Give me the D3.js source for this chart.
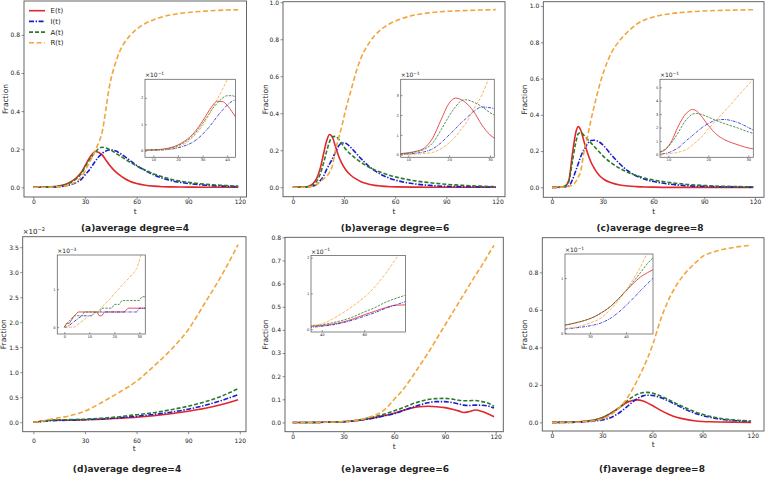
<!DOCTYPE html>
<html lang="en">
<head>
<meta charset="UTF-8">
<title>average degree</title>
<script src="https://cdn.jsdelivr.net/npm/d3@7"></script>
<style>
  body { margin: 0; background: #fff; }
  text { font-family: "DejaVu Sans", sans-serif; fill: #222; }
</style>
</head>
<body>
<script>
// ---- data (main plots: fraction; insets: in units of the x10^k label) ----
const seriesNames = ['E(t)', 'I(t)', 'A(t)', 'R(t)']
const xTicksMain = [0, 30, 60, 90, 120]

// (a) average degree = 4
const tA = [0,5,10,15,20,25,28,30,32,34,36,38,40,42,44,46,48,50,53,56,60,65,70,75,80,90,100,110,119]
const eA = [0,0.0005,0.002,0.007,0.02,0.05,0.08,0.112,0.145,0.172,0.188,0.183,0.17,0.145,0.12,0.098,0.08,0.065,0.046,0.032,0.02,0.011,0.006,0.003,0.002,0.001,0,0,0]
const iA = [0,0,0.001,0.003,0.01,0.025,0.043,0.065,0.085,0.11,0.137,0.16,0.178,0.19,0.196,0.195,0.19,0.18,0.162,0.142,0.115,0.088,0.065,0.048,0.035,0.02,0.011,0.006,0.003]
const aA = [0,0.0005,0.002,0.006,0.018,0.045,0.073,0.105,0.135,0.162,0.185,0.203,0.21,0.207,0.2,0.19,0.178,0.167,0.15,0.133,0.112,0.09,0.07,0.055,0.042,0.026,0.016,0.01,0.006]
const rA = [0,0,0.001,0.003,0.01,0.03,0.055,0.085,0.12,0.155,0.195,0.235,0.29,0.4,0.52,0.6,0.66,0.71,0.76,0.795,0.83,0.86,0.88,0.895,0.905,0.918,0.925,0.93,0.932]
const tAi = [6,10,14,18,22,26,28,30,32,34,36,38,40,42,44]
const eAi = [0.02,0.03,0.06,0.14,0.32,0.62,0.85,1.12,1.42,1.7,1.87,1.86,1.72,1.47,1.2]
const iAi = [0.01,0.02,0.03,0.07,0.16,0.32,0.45,0.62,0.82,1.05,1.3,1.52,1.72,1.87,1.94]
const aAi = [0.02,0.03,0.05,0.12,0.28,0.56,0.78,1.03,1.3,1.58,1.8,1.98,2.08,2.08,2.0]
const rAi = [0,0.01,0.03,0.08,0.22,0.5,0.7,0.95,1.25,1.6,1.95,2.3,2.7,3.3,3.9]

// (b) average degree = 6
const tB = [0,5,8,10,12,14,16,18,20,21.5,23,25,27,29,31,34,37,40,44,48,52,57,62,70,80,90,100,110,119]
const eB = [0,0.0005,0.002,0.008,0.022,0.048,0.1,0.18,0.255,0.285,0.275,0.22,0.165,0.125,0.095,0.065,0.045,0.03,0.018,0.01,0.006,0.003,0.002,0.001,0,0,0,0,0]
const iB = [0,0,0.001,0.003,0.007,0.015,0.035,0.06,0.1,0.125,0.15,0.19,0.225,0.24,0.238,0.215,0.185,0.155,0.118,0.09,0.068,0.048,0.034,0.02,0.01,0.005,0.003,0.002,0.001]
const aB = [0,0.0005,0.002,0.006,0.015,0.033,0.07,0.13,0.2,0.245,0.272,0.275,0.258,0.232,0.205,0.178,0.155,0.135,0.112,0.094,0.08,0.064,0.052,0.037,0.025,0.016,0.01,0.006,0.003]
const rB = [0,0,0.001,0.003,0.008,0.015,0.03,0.045,0.06,0.08,0.11,0.2,0.27,0.34,0.42,0.52,0.62,0.7,0.77,0.82,0.855,0.885,0.905,0.928,0.943,0.951,0.955,0.958,0.96]
const tBi = [8,10,12,14,16,18,20,21.5,23,24,26,28,30,32]
const eBi = [0.05,0.1,0.18,0.35,0.85,1.75,2.6,2.85,2.77,2.63,2.18,1.5,1.0,0.72]
const iBi = [0.02,0.04,0.08,0.15,0.3,0.6,1.0,1.3,1.62,1.8,2.18,2.4,2.37,2.23]
const aBi = [0.03,0.07,0.15,0.28,0.6,1.25,1.95,2.4,2.72,2.77,2.65,2.42,2.12,1.9]
const rBi = [0,0.01,0.03,0.06,0.12,0.3,0.6,0.9,1.3,1.55,2.3,3.0,4.0,4.8]

// (c) average degree = 8
const tC = [0,4,6,8,10,12,14,15.5,17,19,21,23,25,28,31,35,40,45,50,55,60,70,80,90,100,110,119]
const eC = [0,0.0005,0.002,0.008,0.04,0.18,0.3,0.335,0.315,0.25,0.19,0.14,0.105,0.065,0.042,0.025,0.013,0.007,0.004,0.002,0.001,0,0,0,0,0,0]
const iC = [0,0,0.001,0.003,0.008,0.04,0.09,0.13,0.17,0.21,0.24,0.258,0.26,0.25,0.225,0.18,0.13,0.09,0.062,0.044,0.032,0.017,0.009,0.005,0.003,0.002,0.001]
const aC = [0,0.0005,0.002,0.007,0.035,0.14,0.245,0.295,0.302,0.285,0.265,0.245,0.225,0.195,0.165,0.135,0.105,0.082,0.065,0.05,0.04,0.026,0.016,0.01,0.006,0.004,0.002]
const rC = [0,0,0.001,0.002,0.005,0.012,0.03,0.055,0.09,0.2,0.28,0.37,0.45,0.56,0.65,0.74,0.81,0.86,0.9,0.925,0.94,0.958,0.967,0.973,0.976,0.978,0.98]
const tCi = [7,9,10,11,12,13,14,15,16,17,18,20,22,24,26,28,30,32]
const eCi = [0.1,0.3,0.6,1.1,1.8,2.4,2.9,3.2,3.35,3.25,2.95,2.15,1.5,1.1,0.85,0.65,0.48,0.38]
const iCi = [0.02,0.06,0.12,0.25,0.4,0.6,0.9,1.15,1.4,1.65,1.9,2.3,2.55,2.6,2.5,2.3,2.0,1.7]
const aCi = [0.15,0.35,0.6,0.95,1.4,1.9,2.4,2.75,3.0,3.05,3.0,2.78,2.52,2.3,2.1,1.9,1.68,1.5]
const rCi = [0,0.02,0.05,0.08,0.12,0.2,0.3,0.45,0.7,0.95,1.2,1.9,2.55,3.2,3.85,4.55,5.2,5.9]

// (d) average degree = 4 (x10^-2, inset x10^-3)
const tD = [0,5,10,20,30,40,50,60,70,80,90,100,110,119]
const eD = [0,0.02,0.04,0.04,0.05,0.06,0.08,0.1,0.13,0.17,0.22,0.28,0.36,0.45]
const iD = [0,0.015,0.03,0.04,0.05,0.065,0.09,0.12,0.155,0.2,0.26,0.34,0.44,0.55]
const aD = [0,0.02,0.04,0.05,0.06,0.08,0.11,0.15,0.19,0.25,0.32,0.41,0.53,0.67]
const rD = [0,0.02,0.06,0.12,0.22,0.4,0.6,0.82,1.12,1.45,1.85,2.4,2.97,3.55]
const tEdi = [0,1,2,3,4,5.5,13,14,15,16,24,25.5,33]
const eDi = [0,0.1,0.1,0.2,0.3,0.4,0.4,0.3,0.3,0.4,0.4,0.5,0.5]
const tIdi = [0,1,3,5,7,11,12.5,29,30,33]
const iDi = [0,0,0.1,0.2,0.3,0.3,0.4,0.4,0.5,0.5]
const tAdi = [0,1,2.5,4,7,8,14,15,19,20,22,23,30,31,33]
const aDi = [0,0.1,0.2,0.3,0.3,0.4,0.4,0.5,0.5,0.6,0.6,0.7,0.7,0.8,0.8]
const tRdi = [0,4,6,8,10,12,14,16,18,20,22,24,26,28,29,30,31]
const rDi = [0,0,0.1,0.2,0.3,0.35,0.45,0.6,0.72,0.88,1.02,1.17,1.3,1.45,1.55,1.75,2.0]

// (e) average degree = 6
const tE = [0,10,20,30,40,45,50,55,60,65,70,75,80,85,90,95,98,101,104,108,112,116,119]
const eE = [0,0,0.001,0.003,0.01,0.016,0.023,0.031,0.04,0.052,0.062,0.068,0.07,0.068,0.064,0.056,0.05,0.043,0.046,0.054,0.047,0.035,0.025]
const iE = [0,0,0.001,0.003,0.01,0.015,0.022,0.03,0.038,0.05,0.063,0.075,0.085,0.09,0.09,0.085,0.08,0.075,0.073,0.075,0.074,0.07,0.062]
const aE = [0,0,0.001,0.004,0.012,0.02,0.028,0.038,0.05,0.063,0.078,0.09,0.099,0.103,0.104,0.1,0.096,0.094,0.094,0.095,0.09,0.082,0.07]
const rE = [0,0,0.001,0.004,0.012,0.022,0.036,0.06,0.1,0.14,0.19,0.245,0.3,0.36,0.42,0.48,0.516,0.552,0.588,0.635,0.68,0.73,0.765]
const tEi = [34,40,45,50,55,60,65,70,75,80]
const eEi = [0.08,0.1,0.14,0.2,0.29,0.4,0.5,0.6,0.67,0.68]
const iEi = [0.05,0.08,0.12,0.18,0.26,0.36,0.46,0.58,0.68,0.78]
const aEi = [0.09,0.12,0.18,0.25,0.35,0.48,0.6,0.75,0.86,0.96]
const rEi = [0.1,0.15,0.28,0.46,0.66,0.89,1.18,1.55,1.97,2.4]

// (f) average degree = 8
const tF = [0,10,20,25,30,35,40,45,48,51,54,57,60,65,70,75,80,85,90,95,100,110,119]
const eF = [0,0.001,0.006,0.012,0.025,0.048,0.077,0.107,0.117,0.12,0.115,0.104,0.09,0.064,0.042,0.026,0.016,0.009,0.005,0.003,0.002,0.001,0]
const iF = [0,0,0.003,0.007,0.013,0.025,0.05,0.085,0.108,0.127,0.14,0.145,0.143,0.132,0.112,0.09,0.068,0.05,0.036,0.026,0.018,0.009,0.005]
const aF = [0,0.001,0.006,0.012,0.025,0.047,0.077,0.115,0.135,0.15,0.158,0.16,0.156,0.14,0.12,0.097,0.077,0.058,0.043,0.031,0.022,0.012,0.007]
const rF = [0,0,0.004,0.009,0.018,0.04,0.076,0.13,0.175,0.225,0.28,0.34,0.41,0.55,0.66,0.74,0.8,0.845,0.885,0.905,0.918,0.935,0.945]
const tFi = [23,27,30,33,36,38,40,42,44,46,48]
const eFi = [0.14,0.2,0.26,0.36,0.5,0.63,0.77,0.9,1.02,1.1,1.17]
const iFi = [0.07,0.1,0.13,0.18,0.28,0.38,0.5,0.63,0.77,0.9,1.03]
const aFi = [0.14,0.2,0.26,0.36,0.5,0.63,0.77,0.93,1.1,1.27,1.4]
const rFi = [0.08,0.12,0.18,0.27,0.45,0.6,0.77,0.98,1.2,1.48,1.8]

// ---- styles ----
const colors = ['#e3262b', '#1a1ad0', '#2a7a2a', '#f2a53a']
const dashMain = [null, '5,1.6,1.4,1.6', '4,2', '5,2.6']
const dashIn = [null, '3,1,0.8,1', '2.4,1.2', '3,1.5']

const svg = d3.select('body').append('svg').attr('width', 765).attr('height', 478)
let clipN = 0

function axesBox(g, o) {
  const x = d3.scaleLinear().domain(o.xd).range([o.l, o.r])
  const y = d3.scaleLinear().domain(o.yd).range([o.b, o.t])
  const id = 'clip' + (clipN++)
  svg.append('clipPath').attr('id', id).append('rect')
    .attr('x', o.l).attr('y', o.t).attr('width', o.r - o.l).attr('height', o.b - o.t)
  g.append('rect').attr('x', o.l).attr('y', o.t).attr('width', o.r - o.l).attr('height', o.b - o.t)
    .attr('fill', '#fff')
  const lines = g.append('g').attr('clip-path', 'url(#' + id + ')')
  o.series.forEach((s, k) => {
    const pts = s.t.map((tv, j) => [tv, s.v[j]])
    lines.append('path')
      .attr('d', d3.line().x(d => x(d[0])).y(d => y(d[1])).curve(o.curve || d3.curveMonotoneX)(pts))
      .attr('fill', 'none').attr('stroke', colors[k]).attr('stroke-width', o.lw)
      .attr('stroke-dasharray', o.dash[k])
  })
  const ts = o.tick
  const xa = g.append('g').attr('transform', 'translate(0,' + o.b + ')')
    .call(d3.axisBottom(x).tickValues(o.xt).tickSize(o.inner ? -ts : ts).tickPadding(o.xpad).tickFormat(d3.format('d')))
  const ya = g.append('g').attr('transform', 'translate(' + o.l + ',0)')
    .call(d3.axisLeft(y).tickValues(o.yt).tickSize(o.inner ? -ts : ts).tickPadding(o.ypad).tickFormat(d3.format(o.fmt)))
  ;[xa, ya].forEach(a => {
    a.select('.domain').remove()
    a.selectAll('line').attr('stroke', '#444').attr('stroke-width', 0.6)
    a.selectAll('text').attr('font-size', o.fs).style('font-family', '"DejaVu Sans", sans-serif').attr('fill', '#222')
  })
  // inner ticks: labels sit just outside the frame
  if (o.inner) {
    xa.selectAll('text').attr('y', o.xpad)
    ya.selectAll('text').attr('x', -o.ypad)
  }
  g.append('rect').attr('x', o.l).attr('y', o.t).attr('width', o.r - o.l).attr('height', o.b - o.t)
    .attr('fill', 'none').attr('stroke', o.frame).attr('stroke-width', o.fw)
  return { x, y }
}

function sciLabel(g, x, y, exp, fs) {
  const t = g.append('text').attr('x', x).attr('y', y).attr('font-size', fs)
  t.append('tspan').text('\u00d710')
  t.append('tspan').attr('dy', -fs * 0.4).attr('font-size', fs * 0.72).text('\u2212' + exp)
}

function mk(tArr, vals) { return vals.map(v => ({ t: tArr, v })) }

const panels = [
  { main: { l: 24, r: 246.5, t: 1, b: 197, xd: [-5.4, 123.8], yd: [-0.051, 0.978], yt: [0, 0.2, 0.4, 0.6, 0.8],
      series: mk(tA, [eA, iA, aA, rA]), xpad: 0.3, ylab: 5.3 },
    ins: { l: 145, r: 235.5, t: 79.3, b: 157.3, xd: [6.6, 43.4], yd: [-0.25, 2.7], xt: [10, 20, 30, 40], yt: [0, 1, 2],
      series: mk(tAi, [eAi, iAi, aAi, rAi]) }, exp: 1,
    title: '(a)average degree=4', tx: 135, ty: 231, tl: 213.5 },
  { main: { l: 283, r: 505, t: 1.7, b: 196.7, xd: [-5.75, 124.4], yd: [-0.051, 1.003], yt: [0, 0.2, 0.4, 0.6, 0.8, 1.0],
      series: mk(tB, [eB, iB, aB, rB]), xpad: 0.3, ylab: 265 },
    ins: { l: 400.7, r: 494.3, t: 79.3, b: 157.3, xd: [8.14, 31.05], yd: [-0.13, 3.8], xt: [10, 20, 30], yt: [0, 1, 2, 3],
      series: mk(tBi, [eBi, iBi, aBi, rBi]) }, exp: 1,
    title: '(b)average degree=6', tx: 395, ty: 231, tl: 213.5 },
  { main: { l: 543.3, r: 764, t: 1.7, b: 197.3, xd: [-5.14, 125.3], yd: [-0.055, 1.024], yt: [0, 0.2, 0.4, 0.6, 0.8, 1.0],
      series: mk(tC, [eC, iC, aC, rC]), xpad: 0.3, ylab: 524 },
    ins: { l: 660, r: 753.3, t: 79.3, b: 157.3, xd: [7.9, 31.25], yd: [-0.22, 5.6], xt: [10, 20, 30], yt: [0, 1, 2, 3, 4, 5],
      series: mk(tCi, [eCi, iCi, aCi, rCi]) }, exp: 1,
    title: '(c)average degree=8', tx: 650, ty: 231, tl: 213.5 },
  { main: { l: 22.7, r: 246, t: 236.7, b: 431.7, xd: [-6.2, 123.6], yd: [-0.19, 3.71], yt: [0, 0.5, 1, 1.5, 2, 2.5, 3, 3.5],
      series: mk(tD, [eD, iD, aD, rD]), xpad: 4.5, ylab: 3.6, mexp: 2 },
    ins: { l: 57.3, r: 145.3, t: 255, b: 334, xd: [-2.8, 32.4], yd: [-0.18, 1.9], xt: [0, 10, 20, 30], yt: [0, 1],
      series: [{ t: tEdi, v: eDi }, { t: tIdi, v: iDi }, { t: tAdi, v: aDi }, { t: tRdi, v: rDi }], curve: d3.curveLinear }, exp: 3,
    title: '(d)average degree=4', tx: 127, ty: 472, tl: 450.5 },
  { main: { l: 285, r: 503.3, t: 237.3, b: 431.7, xd: [-4.55, 124.5], yd: [-0.04, 0.8], yt: [0, 0.1, 0.2, 0.3, 0.4, 0.5, 0.6, 0.7, 0.8],
      series: mk(tE, [eE, iE, aE, rE]), xpad: 0.5, ylab: 265 },
    ins: { l: 311, r: 405.5, t: 255.5, b: 332, xd: [34.9, 79.5], yd: [-0.08, 2.06], xt: [40, 60], yt: [0, 1, 2],
      series: mk(tEi, [eEi, iEi, aEi, rEi]) }, exp: 1,
    title: '(e)average degree=6', tx: 395, ty: 472, tl: 448.7 },
  { main: { l: 542.3, r: 764, t: 237.7, b: 431, xd: [-5.8, 126.7], yd: [-0.046, 0.985], yt: [0, 0.2, 0.4, 0.6, 0.8],
      series: mk(tF, [eF, iF, aF, rF]), xpad: 0.5, ylab: 524 },
    ins: { l: 565, r: 653, t: 254, b: 334, xd: [23.06, 47.5], yd: [-0.02, 1.44], xt: [30, 40], yt: [0, 1],
      series: mk(tFi, [eFi, iFi, aFi, rFi]) }, exp: 1,
    title: '(f)average degree=8', tx: 652, ty: 472, tl: 446.5 }
]

panels.forEach(p => {
  const g = svg.append('g')
  const m = p.main
  axesBox(g, Object.assign({ xt: xTicksMain, fmt: '.1f', fs: 6, tick: 2.5, inner: false, ypad: 1.5,
    lw: 1.6, dash: dashMain, frame: '#555', fw: 0.9 }, m))
  // axis labels
  g.append('text').attr('x', (m.l + m.r) / 2).attr('y', p.tl).attr('text-anchor', 'middle')
    .attr('font-size', 7.5).text('t')
  g.append('text').attr('transform', 'translate(' + (m.ylab + 2.7) + ',' + ((m.t + m.b) / 2) + ') rotate(-90)')
    .attr('text-anchor', 'middle').attr('font-size', 7.5).text('Fraction')
  g.append('text').attr('x', p.tx).attr('y', p.ty).attr('text-anchor', 'middle')
    .attr('font-size', 9).attr('font-weight', 'bold').text(p.title)
  if (m.mexp) sciLabel(g, m.l, m.t - 2.5, m.mexp, 7)
  // inset
  const n = p.ins
  axesBox(g, Object.assign({ fmt: 'd', fs: 3.6, tick: 1.8, inner: true, xpad: 1.6, ypad: 1.8,
    lw: 0.8, dash: dashIn, frame: '#666', fw: 0.8 }, n))
  sciLabel(g, n.l, n.t - 2, p.exp, 6)
})

// legend in panel (a)
const leg = svg.append('g')
seriesNames.forEach((name, k) => {
  const yy = 10.7 + k * 10.7
  leg.append('line').attr('x1', 29).attr('x2', 45).attr('y1', yy).attr('y2', yy)
    .attr('stroke', colors[k]).attr('stroke-width', 1.6).attr('stroke-dasharray', dashMain[k])
  leg.append('text').attr('x', 50.5).attr('y', yy + 2.5).attr('font-size', 7).text(name)
})
</script>
</body>
</html>
